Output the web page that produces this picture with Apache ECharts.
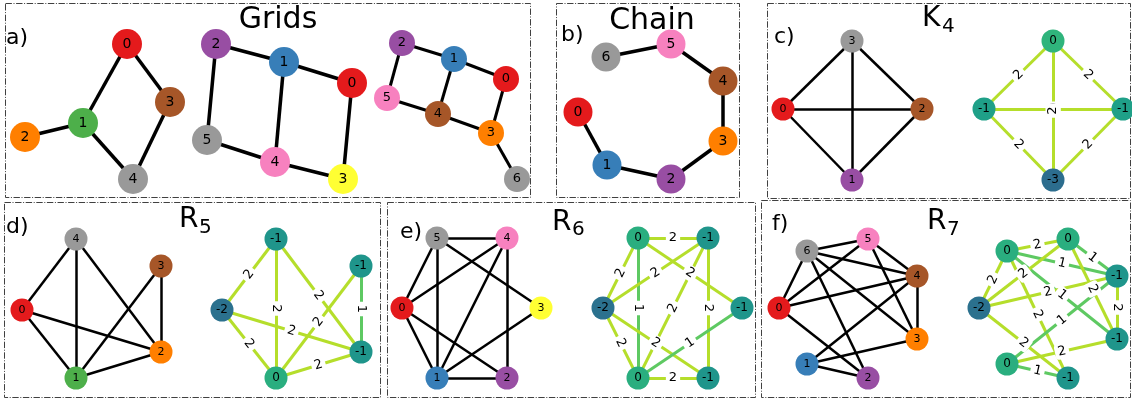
<!DOCTYPE html>
<html>
<head>
<meta charset="utf-8">
<script src="https://cdn.jsdelivr.net/npm/echarts@6/dist/echarts.min.js"></script>
<style>
  html, body { margin: 0; padding: 0; background: #fff; }
  #chart { width: 1132px; height: 398px; }
</style>
</head>
<body>
<div id="chart"></div>
<script>
// ---- palette (qualitative node colours) ----
const SET1 = {
  red: '#e41a1c', blue: '#377eb8', green: '#4daf4a', purple: '#984ea3',
  orange: '#ff7f00', yellow: '#ffff33', brown: '#a65628', pink: '#f781bf', gray: '#999999'
};
// node value -> colour for the weighted graphs
const VALUE_COLORS = { '0': '#2aae7f', '-1': '#1f958b', '-2': '#2b718e', '-3': '#2d6c8e' };
const VALUE_COLORS_K4 = { '0': '#2fb47c', '-1': '#1fa088', '-3': '#2c6d8e' };
// edge weight -> colour
const WEIGHT_COLORS = { 1: '#5ec962', 2: '#b5de2b' };

// ---- a) grids ----
const gridA1Pos = [[127, 44], [83, 123], [25, 137], [170, 102], [133, 179]];
const gridA1Colors = ['red', 'green', 'orange', 'brown', 'gray'];
const gridA1Edges = [[0, 1], [0, 3], [1, 2], [1, 4], [3, 4]];

const gridA2Pos = [[352, 83], [284, 62], [216, 44], [343, 179], [275, 162], [207, 140]];
const gridA2Colors = ['red', 'blue', 'purple', 'yellow', 'pink', 'gray'];
const gridA2Edges = [[0, 1], [1, 2], [2, 5], [1, 4], [0, 3], [4, 5], [3, 4]];

const gridA3Pos = [[506, 79], [454, 59], [402, 43], [491, 133], [438, 114], [387, 98], [517, 179]];
const gridA3Colors = ['red', 'blue', 'purple', 'orange', 'brown', 'pink', 'gray'];
const gridA3Edges = [[0, 1], [1, 2], [2, 5], [1, 4], [0, 3], [4, 5], [3, 4], [3, 6]];

// ---- b) chain ----
const chainPos = [[578, 112], [607, 165], [671, 179], [723, 141], [723, 81], [671, 44], [606, 57]];
const chainColors = ['red', 'blue', 'purple', 'orange', 'brown', 'pink', 'gray'];
const chainEdges = [[0, 1], [1, 2], [2, 3], [3, 4], [4, 5], [5, 6]];

// ---- c) K4 ----
const k4Pos = [[783, 109], [852, 180], [922, 109], [852, 41]];
const k4Colors = ['red', 'purple', 'brown', 'gray'];
const k4Edges = [[0, 1, 2], [0, 2, 2], [0, 3, 2], [1, 2, 2], [2, 3, 2], [1, 3, 2]];
const k4Values = [-1, -3, -1, 0];
const k4Shift = 201;

// ---- d) R5 ----
const r5Pos = [[22, 310], [76, 378], [161, 352], [161, 266], [76, 239]];
const r5Colors = ['red', 'green', 'orange', 'brown', 'gray'];
const r5Edges = [[4, 0, 2], [4, 1, 2], [4, 2, 2], [3, 1, 2], [3, 2, 1], [0, 1, 2], [0, 2, 2], [1, 2, 2]];
const r5Values = [-2, 0, -1, -1, -1];
const r5Shift = 200;

// ---- e) R6 ----
const r6Pos = [[402, 308], [437, 378], [507, 378], [541, 308], [507, 238], [437, 238]];
const r6Colors = ['red', 'blue', 'purple', 'yellow', 'pink', 'gray'];
const r6Edges = [[5, 4, 2], [5, 0, 2], [5, 1, 1], [5, 3, 2], [4, 0, 2], [4, 1, 2], [4, 2, 2],
                 [0, 1, 2], [0, 2, 2], [3, 1, 1], [1, 2, 2]];
const r6Values = [-2, 0, -1, -1, -1, 0];
const r6Shift = 201;

// ---- f) R7 ----
const r7Pos = [[779, 308], [807, 364], [868, 378], [917, 339], [917, 276], [868, 239], [807, 251]];
const r7Colors = ['red', 'blue', 'purple', 'orange', 'brown', 'pink', 'gray'];
const r7Edges = [[6, 5, 2], [6, 4, 1], [6, 3, 1], [6, 2, 2], [6, 0, 2], [5, 0, 2], [5, 4, 1],
                 [5, 3, 2], [4, 0, 2], [4, 3, 2], [4, 1, 1], [0, 2, 2], [3, 1, 2], [1, 2, 1]];
const r7Values = [-2, 0, -1, -1, -1, 0, 0];
const r7Shift = 200;

// ---- panel frames, titles and tags ----
const panels = [
  { x: 5, y: 3, w: 525, h: 194 },
  { x: 556, y: 3, w: 183, h: 194 },
  { x: 767, y: 3, w: 363, h: 195 },
  { x: 4, y: 202, w: 376, h: 195 },
  { x: 387, y: 202, w: 368, h: 195 },
  { x: 761, y: 200, w: 369, h: 197 }
];
const titles = [
  { text: 'Grids', x: 278, y: 20, size: 30, align: 'center' },
  { text: 'Chain', x: 652, y: 21, size: 30, align: 'center' },
  { text: 'K', sub: '4', x: 922, y: 19, subX: 942, subY: 27 },
  { text: 'R', sub: '5', x: 179, y: 220, subX: 199, subY: 228 },
  { text: 'R', sub: '6', x: 552, y: 223, subX: 572, subY: 230 },
  { text: 'R', sub: '7', x: 927, y: 222, subX: 947, subY: 230 }
];
const tags = [
  { text: 'a)', x: 6, y: 38 }, { text: 'b)', x: 561, y: 35 }, { text: 'c)', x: 774, y: 37 },
  { text: 'd)', x: 6, y: 227 }, { text: 'e)', x: 400, y: 232 }, { text: 'f)', x: 772, y: 224 }
];

const FONT = 'DejaVu Sans';

// plain graph drawn with black edges and qualitative node colours
function plainGraph(pos, colors, edges, size, fontSize, width) {
  return {
    type: 'graph',
    coordinateSystem: 'cartesian2d',
    silent: true,
    symbol: 'circle',
    symbolSize: size,
    label: { show: true, position: 'inside', formatter: '{b}', color: '#000', fontSize: fontSize, fontFamily: FONT },
    lineStyle: { color: '#000', width: width, opacity: 1, curveness: 0 },
    data: pos.map((p, i) => ({
      id: 'n' + i, name: String(i), value: p,
      itemStyle: { color: SET1[colors[i]] }
    })),
    links: edges.map(e => ({ source: 'n' + e[0], target: 'n' + e[1] }))
  };
}

// weighted graph: same layout shifted, nodes coloured by value, edges by weight
function weightedGraph(pos, shift, values, edges, palette) {
  return {
    type: 'graph',
    coordinateSystem: 'cartesian2d',
    silent: true,
    symbol: 'circle',
    symbolSize: 23,
    label: { show: true, position: 'inside', formatter: '{b}', color: '#000', fontSize: 12, fontFamily: FONT },
    lineStyle: { width: 3, opacity: 1, curveness: 0 },
    edgeLabel: {
      show: true, position: 'insideMiddle', formatter: '{c}', color: '#000',
      fontSize: 13, fontFamily: FONT, backgroundColor: '#fff', padding: [1, 3], borderRadius: 3
    },
    data: pos.map((p, i) => ({
      id: 'n' + i, name: String(values[i]), value: [p[0] + shift, p[1]],
      itemStyle: { color: palette[String(values[i])] }
    })),
    links: edges.map(e => ({
      source: 'n' + e[0], target: 'n' + e[1], value: e[2],
      lineStyle: { color: WEIGHT_COLORS[e[2]] }
    }))
  };
}

const graphics = [];
panels.forEach(p => {
  graphics.push({
    type: 'rect', silent: true,
    shape: { x: p.x + 0.5, y: p.y + 0.5, width: p.w, height: p.h },
    style: { fill: 'none', stroke: '#404040', lineWidth: 1, lineDash: [6.4, 1.6, 1, 1.6] }
  });
});
titles.forEach(t => {
  graphics.push({
    type: 'text', silent: true, x: t.x, y: t.y,
    style: { text: t.text, fontSize: t.size || 28, fontFamily: FONT, fill: '#000',
             align: t.align || 'left', verticalAlign: 'middle' }
  });
  if (t.sub) {
    graphics.push({
      type: 'text', silent: true, x: t.subX, y: t.subY,
      style: { text: t.sub, fontSize: 20, fontFamily: FONT, fill: '#000', align: 'left', verticalAlign: 'middle' }
    });
  }
});
tags.forEach(t => {
  graphics.push({
    type: 'text', silent: true, x: t.x, y: t.y,
    style: { text: t.text, fontSize: 22, fontFamily: FONT, fill: '#000', align: 'left', verticalAlign: 'middle' }
  });
});

const chart = echarts.init(document.getElementById('chart'));
chart.setOption({
  animation: false,
  backgroundColor: '#fff',
  grid: { left: 0, right: 0, top: 0, bottom: 0 },
  xAxis: { type: 'value', min: 0, max: 1132, show: false },
  yAxis: { type: 'value', min: 0, max: 398, inverse: true, show: false },
  graphic: graphics,
  series: [
    plainGraph(gridA1Pos, gridA1Colors, gridA1Edges, 30, 14, 3.5),
    plainGraph(gridA2Pos, gridA2Colors, gridA2Edges, 30, 14, 3.5),
    plainGraph(gridA3Pos, gridA3Colors, gridA3Edges, 26, 13, 3),
    plainGraph(chainPos, chainColors, chainEdges, 29, 14, 3.5),
    plainGraph(k4Pos, k4Colors, k4Edges, 23, 11, 2.5),
    weightedGraph(k4Pos, k4Shift, k4Values, k4Edges, VALUE_COLORS_K4),
    plainGraph(r5Pos, r5Colors, r5Edges, 23, 11, 2.5),
    weightedGraph(r5Pos, r5Shift, r5Values, r5Edges, VALUE_COLORS),
    plainGraph(r6Pos, r6Colors, r6Edges, 23, 11, 2.5),
    weightedGraph(r6Pos, r6Shift, r6Values, r6Edges, VALUE_COLORS),
    plainGraph(r7Pos, r7Colors, r7Edges, 23, 11, 2.5),
    weightedGraph(r7Pos, r7Shift, r7Values, r7Edges, VALUE_COLORS)
  ]
});
</script>
</body>
</html>
